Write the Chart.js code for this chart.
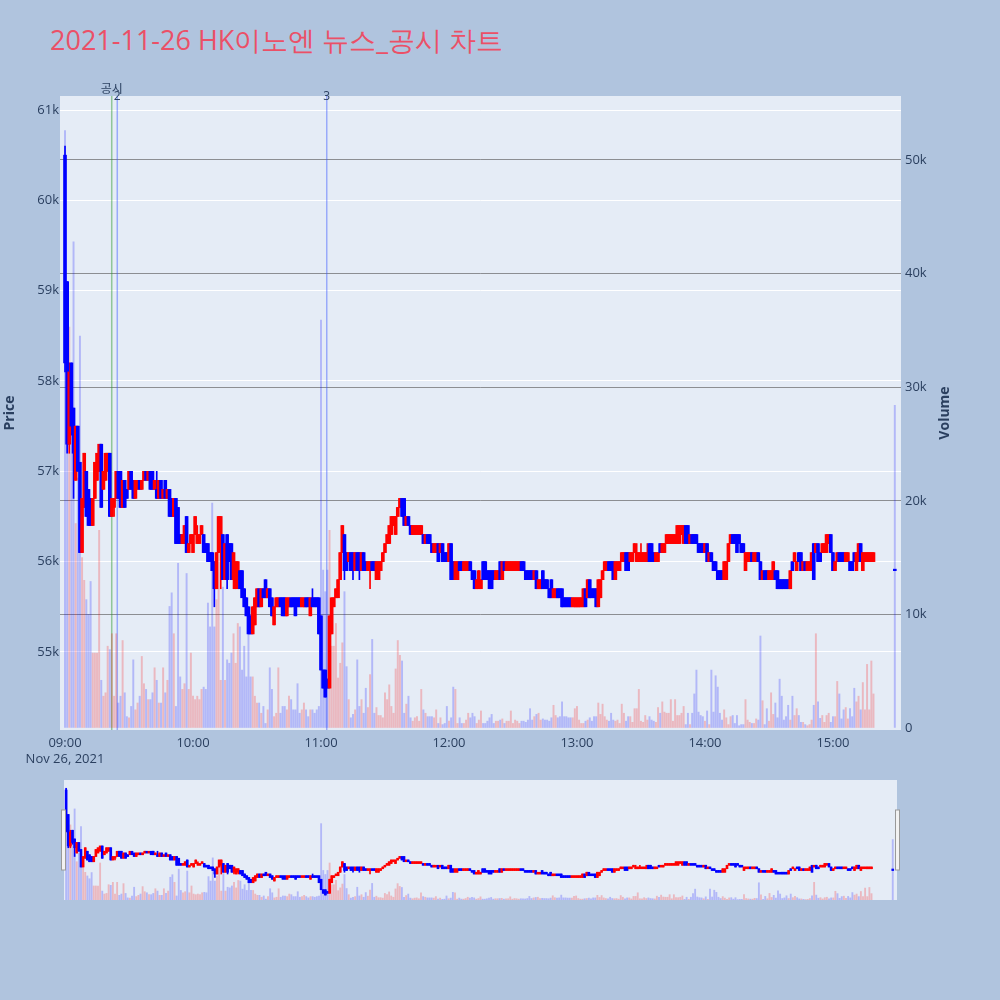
<!DOCTYPE html>
<html>
<head>
<meta charset="utf-8">
<script src="https://cdn.jsdelivr.net/npm/chart.js"></script>
<style>
  body { margin: 0; width: 1000px; height: 1000px; background: #b0c4de; position: relative; overflow: hidden; font-family: "Open Sans", sans-serif; }
  #title { position: absolute; left: 50px; top: 26px; font-size: 27px; line-height: 28px; color: #eb5067; white-space: nowrap; }
  #main { position: absolute; left: 0; top: 0; }
  #slider { position: absolute; left: 0; top: 775px; }
</style>
</head>
<body>
<div id="title">2021-11-26 HK이노엔 뉴스_공시 차트</div>
<canvas id="main" width="1000" height="775"></canvas>
<canvas id="slider" width="1000" height="225"></canvas>
<script>
// Prices in units of 100 won, one candle per minute starting 09:00
const opens = [
  605,591,573,582,577,569,575,571,561,566, 570,568,567,564,567,569,570,573,568,569,
  570,572,565,566,567,570,570,566,569,568, 568,570,569,567,568,569,568,569,570,569,
  570,570,568,568,567,569,567,569,567,568, 567,565,567,566,563,562,562,565,561,562,
  561,563,562,562,563,563,562,562,561,561, 560,557,561,562,563,558,563,562,562,558,
  557,558,559,559,557,556,555,554,552,553, 555,557,555,557,558,556,557,556,553,555,
  555,556,556,556,554,555,556,556,556,556, 556,555,555,556,556,554,556,556,556,556,
  554,548,548,547,546,552,555,556,556,558, 561,563,561,560,561,561,559,561,561,559,
  561,560,559,559,560,560,558,558,559,560, 561,562,562,563,564,563,565,566,567,567,
  564,565,564,563,563,563,563,563,563,562, 563,563,562,561,561,562,561,562,561,561,
  560,562,560,558,558,560,560,559,559,559, 560,559,559,557,557,557,560,560,559,559,
  559,559,558,558,560,558,560,559,559,559, 559,559,559,559,560,560,559,559,559,559,
  558,559,557,557,559,558,558,557,558,556, 556,557,557,557,556,556,556,556,555,555,
  555,555,555,555,557,556,558,557,557,557, 555,556,558,559,559,560,560,560,558,559,
  559,560,560,561,561,560,560,561,560,560, 560,560,560,560,562,562,561,560,560,562,
  561,561,562,562,562,562,562,562,562,563, 562,564,564,562,563,563,563,562,562,562,
  561,562,560,561,560,560,559,559,559,558, 558,560,562,563,563,563,563,562,562,559,
  560,560,561,560,560,561,560,558,559,559, 558,558,558,559,559,558,558,558,558,558,
  557,560,560,559,561,561,559,560,559,559, 559,562,561,562,561,561,561,561,562,563,
  561,559,560,561,561,561,560,560,560,560, 561,559,560,562,559,560,560,560,560,560
];
const highs = [
  606,591,582,582,577,575,575,571,567,572, 570,568,567,567,571,572,573,573,570,572,
  572,572,567,567,570,570,570,569,569,568, 570,570,569,569,569,569,569,570,570,570,
  570,570,569,570,569,569,568,569,568,568, 567,567,567,566,563,563,564,565,562,563,
  563,565,564,563,564,563,562,562,561,561, 560,561,565,565,563,562,563,562,562,561,
  560,560,559,559,557,556,555,554,555,556, 557,557,557,557,558,557,557,556,555,556,
  556,556,556,556,556,556,556,556,556,556, 556,556,556,556,556,556,557,556,556,556,
  554,548,548,547,554,556,556,557,558,561, 564,563,561,561,561,561,561,561,561,561,
  561,560,560,560,560,560,560,560,560,561, 562,563,564,565,565,565,566,567,567,567,
  565,565,564,564,564,564,564,564,563,563, 563,563,562,562,562,562,562,562,561,561,
  562,562,560,560,560,560,560,560,560,560, 560,559,559,558,559,558,560,560,559,559,
  559,559,559,559,560,560,560,560,560,560, 560,560,560,560,560,560,559,559,559,559,
  559,559,558,558,559,558,558,557,558,557, 557,557,557,557,556,556,556,556,556,556,
  556,556,556,557,557,558,558,557,557,557, 558,558,559,560,560,560,560,560,560,560,
  560,561,561,561,561,561,561,562,562,561, 562,561,561,562,562,562,561,561,561,562,
  562,562,563,563,563,563,563,564,564,564, 564,564,564,563,563,563,563,562,562,562,
  562,562,561,561,560,560,559,559,559,560, 560,562,563,563,563,563,563,562,562,561,
  561,561,561,561,561,561,560,559,559,559, 559,559,560,559,559,558,558,558,558,558,
  559,560,561,560,561,561,560,560,560,560, 561,562,562,562,561,562,562,563,563,563,
  561,560,561,561,561,561,561,561,560,560, 561,561,562,562,561,561,561,561,561,561
];
const lows = [
  581,572,572,574,567,569,570,561,561,566, 565,564,564,564,567,569,570,566,568,569,
  570,565,565,565,567,567,566,566,566,567, 568,568,567,567,568,568,568,569,569,569,
  568,568,568,567,567,567,567,567,567,565, 565,565,562,562,562,562,562,561,561,562,
  561,563,562,562,563,561,561,560,560,559, 555,557,561,557,558,558,557,560,558,557,
  557,557,557,556,555,554,552,552,552,553, 555,555,555,556,556,556,555,554,553,555,
  555,555,554,554,554,555,555,555,554,555, 555,555,555,555,555,554,555,555,555,552,
  548,546,545,546,546,552,555,556,556,558, 561,558,559,560,559,558,559,559,558,559,
  559,559,559,557,559,559,558,558,559,560, 561,562,562,563,564,563,565,566,565,564,
  564,564,563,563,563,563,563,563,562,562, 562,562,561,561,561,560,561,560,560,560,
  560,558,558,558,558,559,559,559,559,559, 559,558,557,557,557,557,558,558,558,557,
  557,558,558,558,558,558,559,559,559,559, 559,559,559,559,559,559,558,558,558,558,
  558,557,557,557,557,557,557,556,556,556, 556,556,556,555,555,555,555,555,555,555,
  555,555,555,555,555,556,556,556,556,555, 555,556,558,559,559,559,559,558,558,559,
  559,560,560,559,559,560,560,561,560,560, 560,560,560,560,560,560,560,560,560,561,
  561,561,562,562,562,562,562,562,562,563, 562,562,562,562,562,562,562,561,561,561,
  561,560,560,560,559,559,558,558,558,558, 558,560,562,562,562,561,562,561,561,559,
  560,560,560,560,560,560,558,558,558,558, 558,558,558,558,557,557,557,557,557,557,
  557,559,560,559,560,559,559,559,559,559, 559,558,561,560,560,561,561,561,562,561,
  559,559,560,560,560,560,560,560,559,559, 560,559,560,560,559,560,560,560,560,560
];
const closes = [
  582,573,581,575,572,575,570,561,567,572, 565,564,564,567,571,572,573,566,570,572,
  572,565,567,567,570,567,566,569,566,567, 570,568,567,569,569,568,569,570,569,570,
  568,568,569,567,569,567,568,567,568,565, 565,567,562,562,562,563,564,561,562,563,
  563,565,563,563,564,561,561,560,560,559, 557,561,565,565,558,562,558,560,558,561,
  560,560,557,556,555,554,552,552,555,556, 557,555,557,556,556,557,555,554,555,556,
  556,555,554,554,556,556,555,555,554,555, 555,556,556,555,555,556,555,555,555,552,
  548,546,545,546,554,556,556,557,558,561, 564,559,559,561,559,559,561,559,559,561,
  559,559,560,560,559,559,560,560,560,561, 562,563,564,565,565,565,566,567,565,564,
  565,564,563,564,564,564,564,564,562,563, 562,562,561,562,562,560,562,560,560,560,
  562,558,558,560,560,559,559,560,560,560, 559,558,557,558,559,558,558,558,558,557,
  557,558,559,559,558,560,559,560,560,560, 560,560,560,560,559,559,558,558,558,558,
  559,557,558,558,557,557,557,556,556,557, 557,556,556,555,555,555,555,555,556,556,
  556,556,556,557,555,558,556,556,556,555, 558,558,559,560,560,559,559,558,560,560,
  560,561,561,559,559,561,561,562,561,561, 561,561,561,561,560,560,560,561,561,561,
  562,562,563,563,563,563,563,564,564,564, 564,562,562,563,562,562,562,561,561,561,
  562,560,561,560,559,559,558,558,558,560, 560,562,563,562,562,561,562,561,561,561,
  561,561,560,561,561,560,558,559,558,558, 559,559,560,558,557,557,557,557,557,557,
  559,559,561,560,560,559,560,559,560,560, 561,558,562,560,560,562,562,563,563,561,
  559,560,561,560,560,560,561,561,559,559, 560,561,562,560,561,561,561,561,561,561
];
// Traded volume per minute, thousands of shares
const volumesK = [
  52.6,38.0,35.3,30.0,42.8,18.0,22.0,34.5,15.0,13.0, 11.3,10.0,12.9,6.6,6.6,6.6,17.4,4.2,2.8,3.1,
  7.2,6.9,8.3,2.8,8.3,2.2,2.8,7.7,3.1,1.0, 0.9,1.9,6.0,1.6,2.2,2.8,6.3,3.9,3.4,2.5,
  2.5,3.1,5.3,4.2,2.2,2.2,5.3,3.1,4.2,10.7, 11.9,8.3,1.9,14.5,4.5,3.4,3.9,13.6,3.4,6.6,
  2.8,2.5,2.8,2.5,3.4,3.6,3.4,11.0,8.9,19.8, 8.9,11.3,18.6,4.2,12.4,4.2,6.0,5.7,6.6,8.3,
  5.7,9.2,8.9,5.1,7.2,4.5,8.9,4.5,4.5,2.8, 2.2,2.2,1.3,1.9,0.4,1.6,5.3,3.4,1.0,1.3,
  5.3,1.3,1.9,1.9,1.6,2.8,2.5,1.6,1.6,3.9, 1.3,1.6,2.2,1.6,1.0,1.6,1.6,1.3,1.6,1.9,
  35.9,13.9,12.0,13.9,17.4,7.2,7.2,9.2,4.4,5.7, 7.5,12.0,5.4,2.5,0.9,1.2,1.6,6.0,1.9,2.5,
  1.3,3.5,1.8,4.7,7.8,1.3,1.8,1.1,1.1,0.9, 3.1,2.5,3.8,1.9,1.3,5.2,7.7,6.4,5.9,1.3,
  2.1,2.8,0.9,0.6,0.9,1.0,0.6,3.4,1.6,1.3, 1.0,1.0,1.0,0.9,1.6,0.4,0.9,0.3,0.4,1.9,
  0.6,0.9,3.6,3.4,0.4,0.9,0.4,0.4,0.7,1.3, 0.9,1.3,1.0,0.4,0.7,1.5,0.4,0.4,0.6,0.9,
  1.2,0.4,0.6,0.6,0.7,0.8,0.4,0.6,0.6,1.5, 0.4,0.7,0.6,0.4,0.6,0.6,0.5,0.7,1.7,0.7,
  1.0,1.2,1.3,0.7,0.8,0.7,0.7,0.6,0.9,2.0, 1.1,0.9,1.0,2.3,1.0,1.0,0.9,0.9,0.9,1.7,
  1.9,0.7,0.4,0.4,0.6,0.7,0.9,0.6,1.0,1.0, 2.2,1.2,2.1,1.0,0.7,0.6,1.3,0.7,0.6,0.7,
  0.4,2.1,1.3,0.6,1.0,1.0,0.5,1.7,1.7,3.4, 0.6,0.5,1.1,0.7,1.0,0.7,0.6,0.5,1.8,1.3,
  2.3,1.4,1.3,1.3,2.5,0.6,2.5,1.1,1.1,1.3, 1.9,0.3,1.3,0.3,1.3,3.0,5.1,1.4,1.1,1.0,
  0.6,1.5,0.3,5.1,1.4,4.6,3.6,1.3,0.7,1.6, 0.9,0.3,1.0,1.1,0.4,1.1,0.2,0.3,0.3,2.5,
  0.7,0.5,0.4,0.4,0.8,0.7,8.1,2.4,0.3,1.7, 0.6,3.1,1.2,2.2,0.9,4.3,2.8,0.7,1.0,2.0,
  0.7,2.8,1.1,1.7,1.1,0.5,0.5,0.3,0.2,0.3, 0.7,2.0,8.3,2.3,0.85,1.1,0.5,1.1,1.3,0.5,
  1.0,1.0,4.1,3.0,0.8,1.6,1.8,0.8,1.7,1.0, 3.5,2.3,2.8,1.6,4.0,1.6,5.6,1.6,5.9,3.0
];

// closing single-price auction print
const closingMinute = 389;
const closingPrice = 559;
const closingVolumeK = 28.4;

const hourTicks = [0, 60, 120, 180, 240, 300, 360];
const hourLabels = ['09:00', '10:00', '11:00', '12:00', '13:00', '14:00', '15:00'];
const dateLabel = 'Nov 26, 2021';
const priceTicks = [55000, 56000, 57000, 58000, 59000, 60000, 61000];
const volumeTicks = [0, 10000, 20000, 30000, 40000, 50000];

// news / disclosure markers (minutes after 09:00)
const newsMinutes = [21.9, 24.5, 122.7];
const newsLabels = ['공시', '2', '3'];

const PRICE_UNIT = 100;
const UP_COLOR = '#ff0000';
const DOWN_COLOR = '#0000ff';
const TEXT_COLOR = '#2a3f5f';
const PLOT_BG = '#e5ecf6';

Chart.defaults.font.family = '"Open Sans", sans-serif';
Chart.defaults.color = TEXT_COLOR;

function buildCandles() {
  const list = opens.map((o, i) => ({
    x: i,
    o: o * PRICE_UNIT,
    h: highs[i] * PRICE_UNIT,
    l: lows[i] * PRICE_UNIT,
    c: closes[i] * PRICE_UNIT,
    v: volumesK[i] * 1000
  }));
  const p = closingPrice * PRICE_UNIT;
  list.push({ x: closingMinute, o: p, h: p, l: p, c: p, v: closingVolumeK * 1000 });
  return list;
}

const isUp = d => d.c > d.o;

function candleDatasets(candles, bodyWidth, wickWidth, volWidth) {
  const solid = candles.map(d => isUp(d) ? UP_COLOR : DOWN_COLOR);
  return [
    {
      label: 'Volume', yAxisID: 'yv', order: 3, grouped: false, barThickness: volWidth,
      data: candles.map(d => ({ x: d.x, y: d.v })),
      backgroundColor: candles.map(d => isUp(d) ? 'rgba(255,0,0,0.22)' : 'rgba(0,0,255,0.22)')
    },
    {
      label: 'Wick', yAxisID: 'y', order: 2, grouped: false, barThickness: wickWidth,
      data: candles.map(d => ({ x: d.x, y: [d.l, d.h] })),
      backgroundColor: solid
    },
    {
      label: 'Body', yAxisID: 'y', order: 1, grouped: false, barThickness: bodyWidth, minBarLength: 1.5,
      data: candles.map(d => ({ x: d.x, y: [Math.min(d.o, d.c), Math.max(d.o, d.c)] })),
      backgroundColor: solid
    }
  ];
}

const plotBackground = {
  id: 'plotBackground',
  beforeDraw(chart) {
    const { ctx, chartArea: a } = chart;
    ctx.save();
    ctx.fillStyle = PLOT_BG;
    ctx.fillRect(a.left, a.top, a.right - a.left, a.bottom - a.top);
    ctx.restore();
  }
};

const newsMarkers = {
  id: 'newsMarkers',
  beforeDatasetsDraw(chart) {
    const { ctx, chartArea: a, scales } = chart;
    ctx.save();
    newsMinutes.forEach((m, i) => {
      const x = scales.x.getPixelForValue(m);
      ctx.strokeStyle = isNaN(newsLabels[i]) ? 'rgba(40,150,40,0.45)' : 'rgba(60,90,255,0.45)';
      ctx.lineWidth = 1.5;
      ctx.beginPath();
      ctx.moveTo(x, a.top);
      ctx.lineTo(x, a.bottom);
      ctx.stroke();
    });
    ctx.restore();
  },
  afterDraw(chart) {
    const { ctx, chartArea: a, scales } = chart;
    ctx.save();
    ctx.fillStyle = TEXT_COLOR;
    ctx.font = '12px "Open Sans", "Noto Sans CJK KR", sans-serif';
    ctx.textAlign = 'center';
    ctx.textBaseline = 'middle';
    newsMinutes.forEach((m, i) => {
      const x = scales.x.getPixelForValue(m);
      const y = isNaN(newsLabels[i]) ? a.top - 6 : a.top + 1;
      ctx.fillText(newsLabels[i], x, y);
    });
    ctx.restore();
  }
};

const axisTitles = {
  id: 'axisTitles',
  afterDraw(chart) {
    const { ctx, chartArea: a } = chart;
    const midY = (a.top + a.bottom) / 2;
    ctx.save();
    ctx.fillStyle = TEXT_COLOR;
    ctx.font = 'bold 14px "Open Sans", sans-serif';
    ctx.textAlign = 'center';
    ctx.textBaseline = 'middle';
    [['Price', 10], ['Volume', a.right + 44]].forEach(([text, x]) => {
      ctx.save();
      ctx.translate(x, midY);
      ctx.rotate(-Math.PI / 2);
      ctx.fillText(text, 0, 0);
      ctx.restore();
    });
    ctx.restore();
  }
};

function kLabel(v) {
  return v === 0 ? '0' : (v / 1000) + 'k';
}

function drawMainChart(candles) {
  const ctx = document.getElementById('main').getContext('2d');
  new Chart(ctx, {
    type: 'bar',
    data: { datasets: candleDatasets(candles, 3, 1, 1.3) },
    plugins: [plotBackground, newsMarkers, axisTitles],
    options: {
      responsive: false,
      animation: false,
      events: [],
      layout: { padding: { top: 96, left: 0, right: 45, bottom: 0 } },
      plugins: { legend: { display: false }, tooltip: { enabled: false } },
      scales: {
        x: {
          type: 'linear', min: -2.35, max: 391.9, offset: false,
          grid: { display: false }, border: { display: false },
          afterBuildTicks: s => { s.ticks = hourTicks.map(v => ({ value: v })); },
          afterFit: s => { s.height = 45; },
          ticks: {
            autoSkip: false, maxRotation: 0, padding: -3,
            font: { size: 13, lineHeight: 1.25 },
            callback: (v, i) => i === 0 ? [hourLabels[i], dateLabel] : hourLabels[i]
          }
        },
        y: {
          position: 'left', min: 54136, max: 61155,
          grid: { color: '#ffffff', lineWidth: 1, drawTicks: false }, border: { display: false },
          afterBuildTicks: s => { s.ticks = priceTicks.map(v => ({ value: v })); },
          afterFit: s => { s.width = 60; },
          ticks: { padding: 1, font: { size: 13 }, callback: v => kLabel(v) }
        },
        yv: {
          position: 'right', min: -176, max: 55633,
          grid: {
            color: c => c.tick && c.tick.value === 0 ? 'rgba(0,0,0,0)' : 'rgba(80,80,80,0.6)',
            lineWidth: 1, drawTicks: false
          },
          border: { display: false },
          afterBuildTicks: s => { s.ticks = volumeTicks.map(v => ({ value: v })); },
          afterFit: s => { s.width = 54; },
          ticks: { padding: 4, font: { size: 13 }, callback: v => kLabel(v) }
        }
      }
    }
  });
}

// range slider handles at both ends
const sliderHandles = {
  id: 'sliderHandles',
  afterDraw(chart) {
    const { ctx, chartArea: a } = chart;
    const mid = (a.top + a.bottom) / 2;
    ctx.save();
    ctx.fillStyle = '#f2f2f2';
    ctx.strokeStyle = '#999999';
    ctx.lineWidth = 1;
    [a.left - 2.5, a.right - 1.5].forEach(x => {
      ctx.fillRect(x, mid - 30, 4, 60);
      ctx.strokeRect(x, mid - 30, 4, 60);
    });
    ctx.restore();
  }
};

function drawRangeSlider(candles) {
  const ctx = document.getElementById('slider').getContext('2d');
  new Chart(ctx, {
    type: 'bar',
    data: { datasets: candleDatasets(candles, 2, 1, 1.2) },
    plugins: [plotBackground, sliderHandles],
    options: {
      responsive: false,
      animation: false,
      events: [],
      layout: { padding: { top: 5, left: 64, right: 103, bottom: 100 } },
      plugins: { legend: { display: false }, tooltip: { enabled: false } },
      scales: {
        x: { type: 'linear', min: -1, max: 391, offset: false, display: false },
        y: { min: 54214, max: 61071, display: false },
        yv: { min: 0, max: 56400, display: false }
      }
    }
  });
}

const candles = buildCandles();
drawMainChart(candles);
drawRangeSlider(candles);
</script>
</body>
</html>
